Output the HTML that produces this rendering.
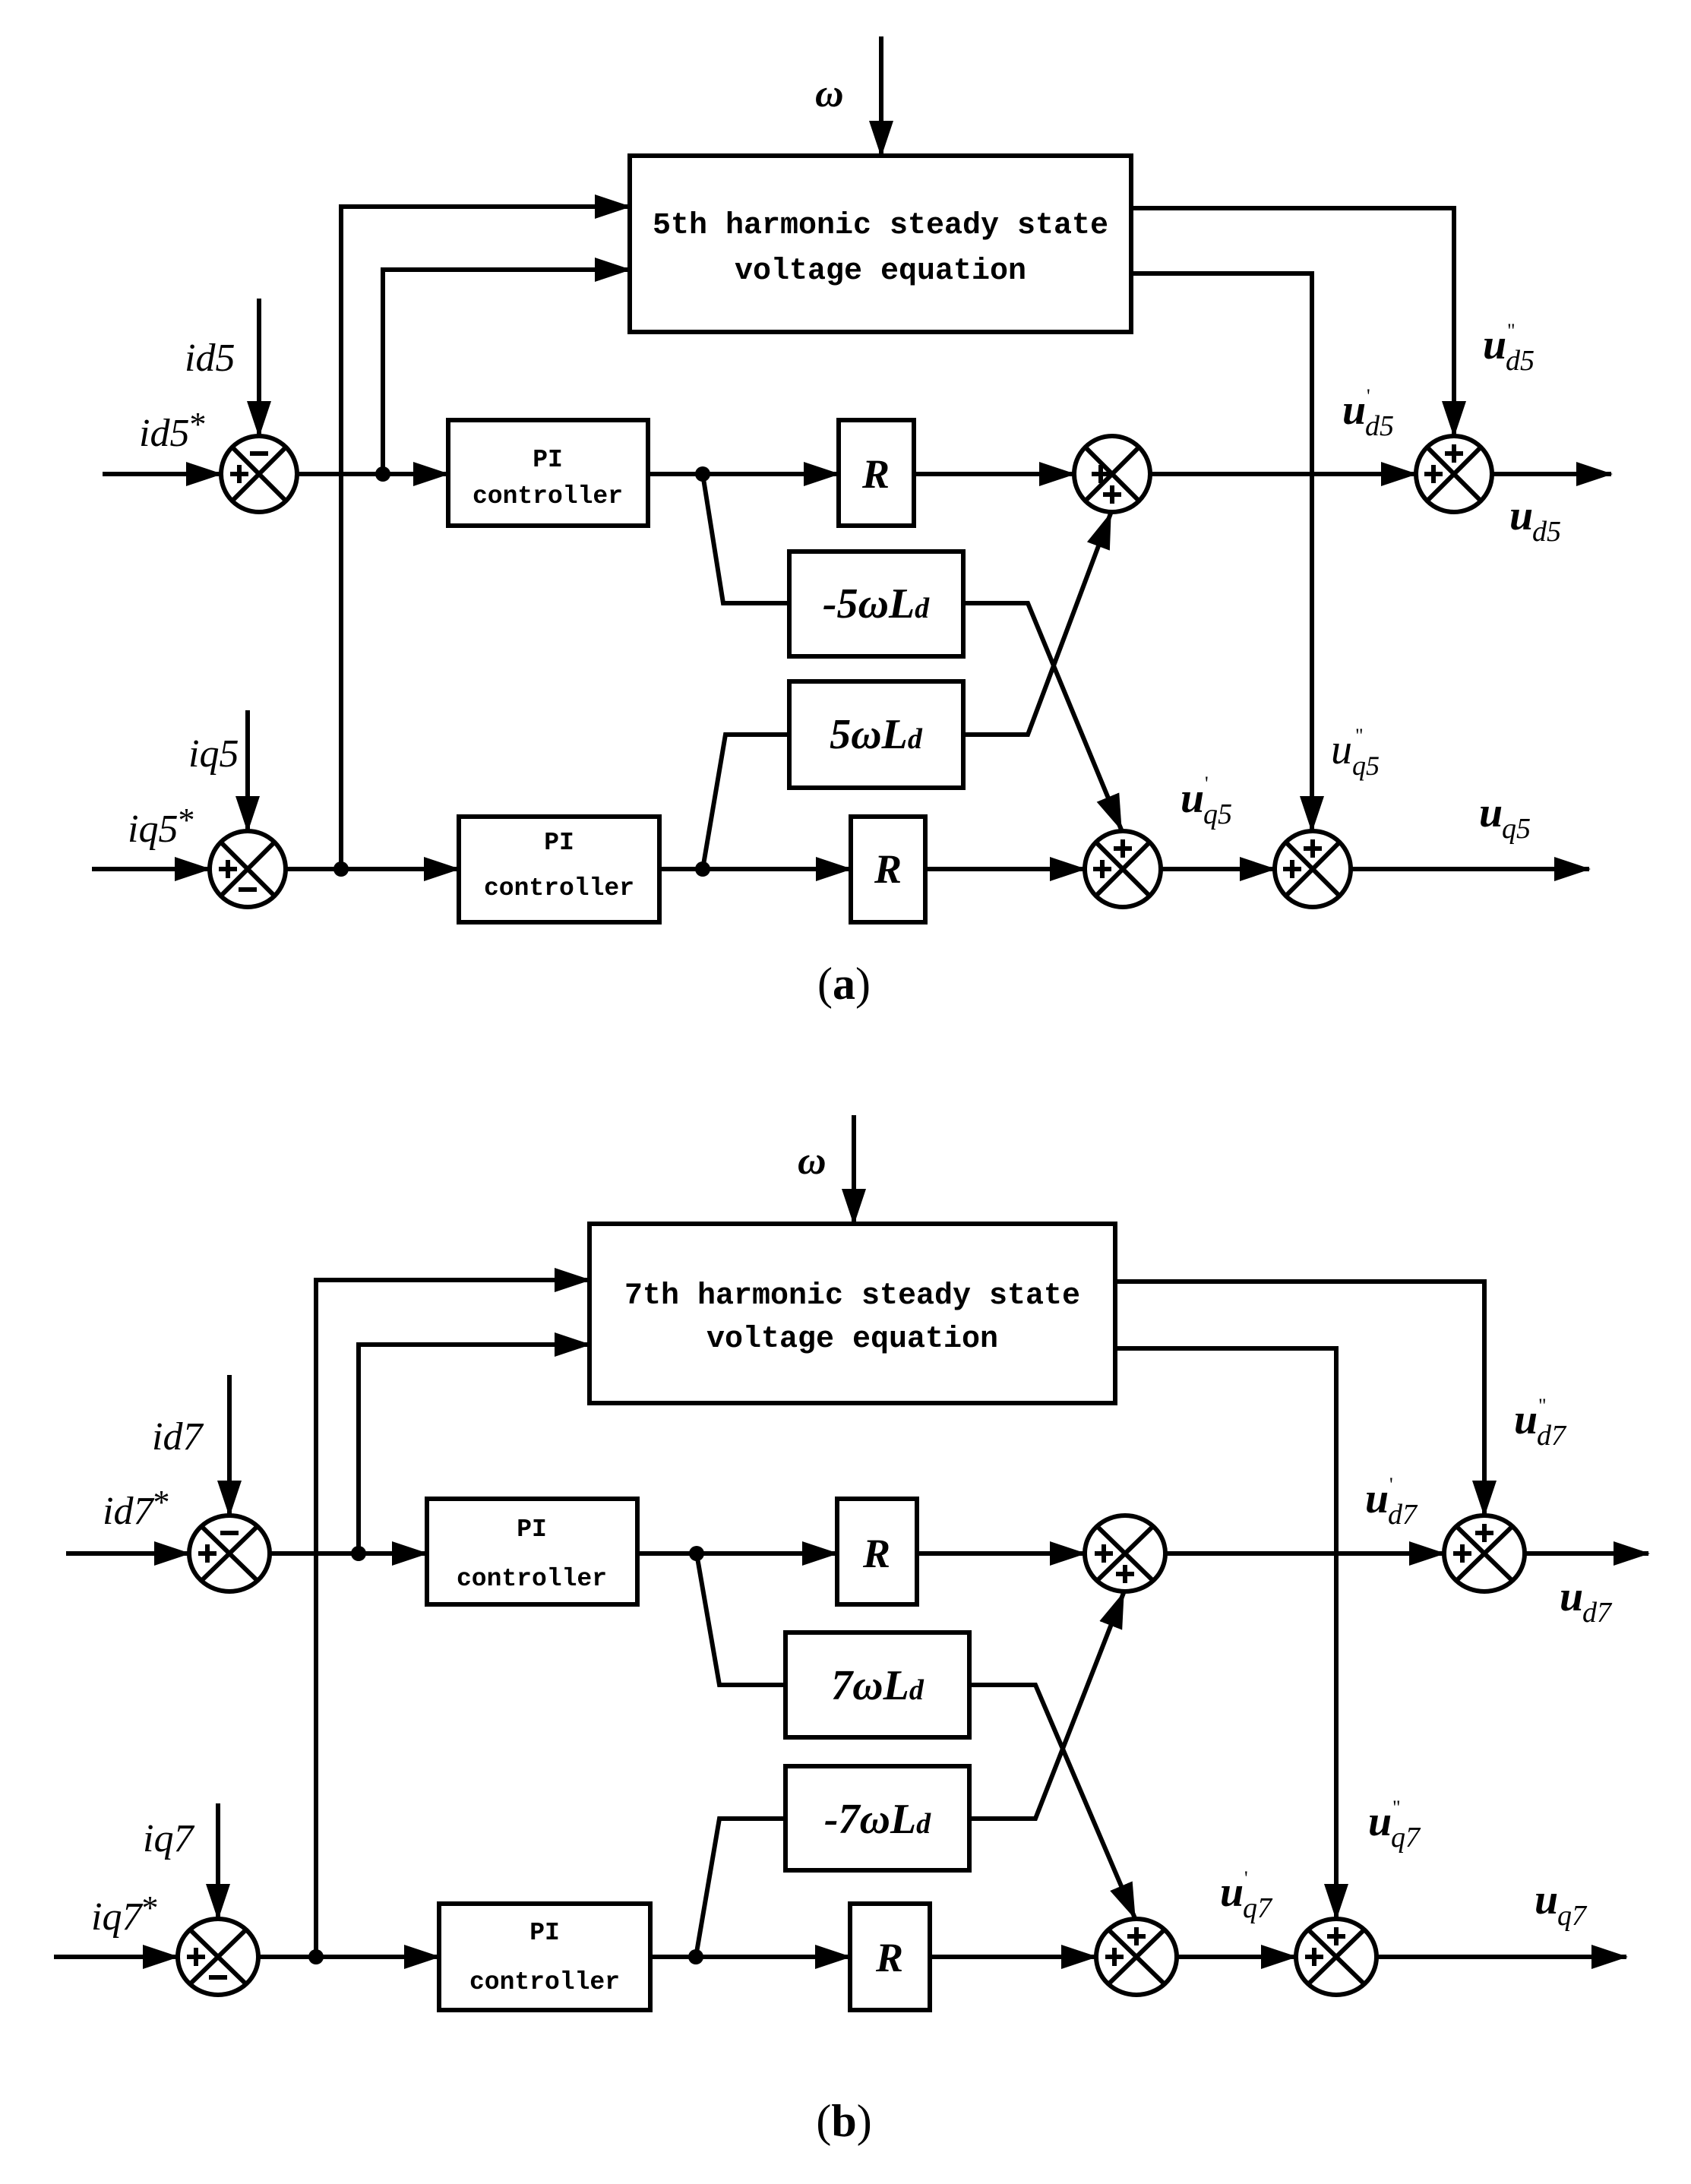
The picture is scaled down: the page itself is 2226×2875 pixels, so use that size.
<!DOCTYPE html>
<html><head><meta charset="utf-8"><style>
html,body{margin:0;padding:0;background:#fff}
svg{display:block}
.l{stroke:#000;stroke-width:6;fill:none;stroke-linejoin:miter}
.b{stroke:#000;stroke-width:6;fill:none}
.mono{font-family:"Liberation Mono",monospace;font-weight:bold;fill:#000}
.ser{font-family:"Liberation Serif",serif;fill:#000}
</style></head><body>
<svg width="2226" height="2875" viewBox="0 0 2226 2875" xmlns="http://www.w3.org/2000/svg">
<defs>
<marker id="a" markerUnits="userSpaceOnUse" markerWidth="48" markerHeight="34" refX="46" refY="16" orient="auto">
<path d="M0,0 L48,16 L0,32 z" fill="#000"/>
</marker>
</defs>
<rect width="2226" height="2875" fill="#fff"/>

<!-- ================= PANEL A ================= -->
<text class="ser" x="1073" y="140" font-size="52" font-style="italic" font-weight="bold">ω</text>
<line class="l" x1="1160" y1="48" x2="1160" y2="205" marker-end="url(#a)"/>
<rect class="b" x="829" y="205" width="660" height="232"/>
<text class="mono" x="1159" y="307" font-size="40" text-anchor="middle">5th harmonic steady state</text>
<text class="mono" x="1159" y="367" font-size="40" text-anchor="middle">voltage equation</text>

<path class="l" d="M449,1144 V272 H829" marker-end="url(#a)"/>
<path class="l" d="M504,624 V355 H829" marker-end="url(#a)"/>
<circle cx="504" cy="624" r="10"/>

<line class="l" x1="135" y1="624" x2="291" y2="624" marker-end="url(#a)"/>
<line class="l" x1="341" y1="393" x2="341" y2="574" marker-end="url(#a)"/>
<line class="l" x1="391" y1="624" x2="590" y2="624" marker-end="url(#a)"/>
<rect class="b" x="590" y="553" width="263" height="139"/>
<text class="mono" x="721" y="614" font-size="33" text-anchor="middle">PI</text>
<text class="mono" x="721" y="662" font-size="33" text-anchor="middle">controller</text>
<line class="l" x1="853" y1="624" x2="1104" y2="624" marker-end="url(#a)"/>
<circle cx="925" cy="624" r="10"/>
<path class="l" d="M925,624 L952,794 H1039"/>
<rect class="b" x="1104" y="553" width="99" height="139"/>
<text class="ser" x="1153" y="642" font-size="54" font-style="italic" font-weight="bold" text-anchor="middle">R</text>
<line class="l" x1="1203" y1="624" x2="1414" y2="624" marker-end="url(#a)"/>

<rect class="b" x="1039" y="726" width="229" height="138"/>
<text class="ser" x="1153" y="813" font-size="56" font-style="italic" font-weight="bold" text-anchor="middle">-5ωL<tspan font-size="38">d</tspan></text>
<rect class="b" x="1039" y="897" width="229" height="140"/>
<text class="ser" x="1153" y="985" font-size="56" font-style="italic" font-weight="bold" text-anchor="middle">5ωL<tspan font-size="38">d</tspan></text>
<path class="l" d="M1268,794 H1353 L1476,1092" marker-end="url(#a)"/>
<path class="l" d="M1268,967 H1353 L1462,676" marker-end="url(#a)"/>

<line class="l" x1="1514" y1="624" x2="1864" y2="624" marker-end="url(#a)"/>
<line class="l" x1="1964" y1="624" x2="2121" y2="624" marker-end="url(#a)"/>
<path class="l" d="M1489,274 H1914 V574" marker-end="url(#a)"/>
<path class="l" d="M1489,360 H1727 V1094" marker-end="url(#a)"/>

<line class="l" x1="121" y1="1144" x2="276" y2="1144" marker-end="url(#a)"/>
<line class="l" x1="326" y1="935" x2="326" y2="1094" marker-end="url(#a)"/>
<line class="l" x1="376" y1="1144" x2="604" y2="1144" marker-end="url(#a)"/>
<circle cx="449" cy="1144" r="10"/>
<rect class="b" x="604" y="1075" width="264" height="139"/>
<text class="mono" x="736" y="1118" font-size="33" text-anchor="middle">PI</text>
<text class="mono" x="736" y="1178" font-size="33" text-anchor="middle">controller</text>
<line class="l" x1="868" y1="1144" x2="1120" y2="1144" marker-end="url(#a)"/>
<circle cx="925" cy="1144" r="10"/>
<path class="l" d="M925,1144 L955,967 H1039"/>
<rect class="b" x="1120" y="1075" width="98" height="139"/>
<text class="ser" x="1169" y="1162" font-size="54" font-style="italic" font-weight="bold" text-anchor="middle">R</text>
<line class="l" x1="1218" y1="1144" x2="1428" y2="1144" marker-end="url(#a)"/>
<line class="l" x1="1528" y1="1144" x2="1678" y2="1144" marker-end="url(#a)"/>
<line class="l" x1="1778" y1="1144" x2="2092" y2="1144" marker-end="url(#a)"/>

<!-- sums A -->
<g class="b">
<circle cx="341" cy="624" r="50"/><path d="M306,589 L376,659 M376,589 L306,659"/>
<circle cx="1464" cy="624" r="50"/><path d="M1429,589 L1499,659 M1499,589 L1429,659"/>
<circle cx="1914" cy="624" r="50"/><path d="M1879,589 L1949,659 M1949,589 L1879,659"/>
<circle cx="326" cy="1144" r="50"/><path d="M291,1109 L361,1179 M361,1109 L291,1179"/>
<circle cx="1478" cy="1144" r="50"/><path d="M1443,1109 L1513,1179 M1513,1109 L1443,1179"/>
<circle cx="1728" cy="1144" r="50"/><path d="M1693,1109 L1763,1179 M1763,1109 L1693,1179"/>
</g>
<g class="b" stroke-width="6">
<path d="M329,597 H353"/><path d="M303,624 H327 M315,612 V636"/>
<path d="M1437,624 H1461 M1449,612 V636"/><path d="M1452,651 H1476 M1464,639 V663"/>
<path d="M1902,597 H1926 M1914,585 V609"/><path d="M1875,624 H1899 M1887,612 V636"/>
<path d="M288,1144 H312 M300,1132 V1156"/><path d="M314,1171 H338"/>
<path d="M1466,1117 H1490 M1478,1105 V1129"/><path d="M1439,1144 H1463 M1451,1132 V1156"/>
<path d="M1716,1117 H1740 M1728,1105 V1129"/><path d="M1689,1144 H1713 M1701,1132 V1156"/>
</g>

<!-- labels A -->
<text class="ser" x="243" y="488" font-size="52" font-style="italic">id5</text>
<text class="ser" x="183" y="587" font-size="52" font-style="italic">id5<tspan font-size="44" dy="-14" font-style="normal">*</tspan></text>
<text class="ser" x="248" y="1009" font-size="52" font-style="italic">iq5</text>
<text class="ser" x="168" y="1108" font-size="52" font-style="italic">iq5<tspan font-size="44" dy="-14" font-style="normal">*</tspan></text>

<text class="ser" x="1767" y="558" font-size="56" font-style="italic" font-weight="bold">u</text>
<text class="ser" x="1797" y="573" font-size="38" font-style="italic">d5</text>
<text class="ser" x="1799" y="530" font-size="26">'</text>
<text class="ser" x="1952" y="472" font-size="56" font-style="italic" font-weight="bold">u</text>
<text class="ser" x="1982" y="487" font-size="38" font-style="italic">d5</text>
<text class="ser" x="1984" y="444" font-size="26">"</text>
<text class="ser" x="1987" y="697" font-size="56" font-style="italic" font-weight="bold">u</text>
<text class="ser" x="2017" y="712" font-size="38" font-style="italic">d5</text>

<text class="ser" x="1752" y="1005" font-size="56" font-style="italic">u</text>
<text class="ser" x="1780" y="1020" font-size="36" font-style="italic">q5</text>
<text class="ser" x="1784" y="977" font-size="26">"</text>
<text class="ser" x="1554" y="1069" font-size="56" font-style="italic" font-weight="bold">u</text>
<text class="ser" x="1584" y="1084" font-size="38" font-style="italic">q5</text>
<text class="ser" x="1586" y="1040" font-size="26">'</text>
<text class="ser" x="1947" y="1088" font-size="56" font-style="italic" font-weight="bold">u</text>
<text class="ser" x="1977" y="1103" font-size="38" font-style="italic">q5</text>

<text class="ser" x="1111" y="1315" font-size="60" text-anchor="middle">(<tspan font-weight="bold">a</tspan>)</text>

<!-- ================= PANEL B ================= -->
<text class="ser" x="1050" y="1545" font-size="52" font-style="italic" font-weight="bold">ω</text>
<line class="l" x1="1124" y1="1468" x2="1124" y2="1611" marker-end="url(#a)"/>
<rect class="b" x="776" y="1611" width="692" height="236"/>
<text class="mono" x="1122" y="1716" font-size="40" text-anchor="middle">7th harmonic steady state</text>
<text class="mono" x="1122" y="1773" font-size="40" text-anchor="middle">voltage equation</text>

<path class="l" d="M416,2576 V1685 H776" marker-end="url(#a)"/>
<path class="l" d="M472,2045 V1770 H776" marker-end="url(#a)"/>
<circle cx="472" cy="2045" r="10"/>

<line class="l" x1="87" y1="2045" x2="249" y2="2045" marker-end="url(#a)"/>
<line class="l" x1="302" y1="1810" x2="302" y2="1995" marker-end="url(#a)"/>
<line class="l" x1="355" y1="2045" x2="562" y2="2045" marker-end="url(#a)"/>
<rect class="b" x="562" y="1973" width="277" height="139"/>
<text class="mono" x="700" y="2022" font-size="33" text-anchor="middle">PI</text>
<text class="mono" x="700" y="2087" font-size="33" text-anchor="middle">controller</text>
<line class="l" x1="839" y1="2045" x2="1102" y2="2045" marker-end="url(#a)"/>
<circle cx="917" cy="2045" r="10"/>
<path class="l" d="M917,2045 L947,2218 H1034"/>
<rect class="b" x="1102" y="1973" width="105" height="139"/>
<text class="ser" x="1154" y="2063" font-size="54" font-style="italic" font-weight="bold" text-anchor="middle">R</text>
<line class="l" x1="1207" y1="2045" x2="1428" y2="2045" marker-end="url(#a)"/>

<rect class="b" x="1034" y="2149" width="242" height="138"/>
<text class="ser" x="1155" y="2237" font-size="56" font-style="italic" font-weight="bold" text-anchor="middle">7ωL<tspan font-size="38">d</tspan></text>
<rect class="b" x="1034" y="2325" width="242" height="137"/>
<text class="ser" x="1155" y="2413" font-size="56" font-style="italic" font-weight="bold" text-anchor="middle">-7ωL<tspan font-size="38">d</tspan></text>
<path class="l" d="M1276,2218 H1363 L1494,2525" marker-end="url(#a)"/>
<path class="l" d="M1276,2394 H1363 L1479,2097" marker-end="url(#a)"/>

<line class="l" x1="1534" y1="2045" x2="1901" y2="2045" marker-end="url(#a)"/>
<line class="l" x1="2007" y1="2045" x2="2170" y2="2045" marker-end="url(#a)"/>
<path class="l" d="M1468,1687 H1954 V1995" marker-end="url(#a)"/>
<path class="l" d="M1468,1775 H1759 V2526" marker-end="url(#a)"/>

<line class="l" x1="71" y1="2576" x2="234" y2="2576" marker-end="url(#a)"/>
<line class="l" x1="287" y1="2374" x2="287" y2="2526" marker-end="url(#a)"/>
<line class="l" x1="340" y1="2576" x2="578" y2="2576" marker-end="url(#a)"/>
<circle cx="416" cy="2576" r="10"/>
<rect class="b" x="578" y="2506" width="278" height="140"/>
<text class="mono" x="717" y="2553" font-size="33" text-anchor="middle">PI</text>
<text class="mono" x="717" y="2618" font-size="33" text-anchor="middle">controller</text>
<line class="l" x1="856" y1="2576" x2="1119" y2="2576" marker-end="url(#a)"/>
<circle cx="916" cy="2576" r="10"/>
<path class="l" d="M916,2576 L947,2394 H1034"/>
<rect class="b" x="1119" y="2506" width="105" height="140"/>
<text class="ser" x="1171" y="2595" font-size="54" font-style="italic" font-weight="bold" text-anchor="middle">R</text>
<line class="l" x1="1224" y1="2576" x2="1443" y2="2576" marker-end="url(#a)"/>
<line class="l" x1="1549" y1="2576" x2="1706" y2="2576" marker-end="url(#a)"/>
<line class="l" x1="1812" y1="2576" x2="2141" y2="2576" marker-end="url(#a)"/>

<!-- sums B -->
<g class="b">
<ellipse cx="302" cy="2045" rx="53" ry="50"/><path d="M266,2010 L338,2080 M338,2010 L266,2080"/>
<ellipse cx="1481" cy="2045" rx="53" ry="50"/><path d="M1445,2010 L1517,2080 M1517,2010 L1445,2080"/>
<ellipse cx="1954" cy="2045" rx="53" ry="50"/><path d="M1918,2010 L1990,2080 M1990,2010 L1918,2080"/>
<ellipse cx="287" cy="2576" rx="53" ry="50"/><path d="M251,2541 L323,2611 M323,2541 L251,2611"/>
<ellipse cx="1496" cy="2576" rx="53" ry="50"/><path d="M1460,2541 L1532,2611 M1532,2541 L1460,2611"/>
<ellipse cx="1759" cy="2576" rx="53" ry="50"/><path d="M1723,2541 L1795,2611 M1795,2541 L1723,2611"/>
</g>
<g class="b">
<path d="M290,2018 H314"/><path d="M261,2045 H285 M273,2033 V2057"/>
<path d="M1441,2045 H1465 M1453,2033 V2057"/><path d="M1469,2072 H1493 M1481,2060 V2084"/>
<path d="M1942,2018 H1966 M1954,2006 V2030"/><path d="M1913,2045 H1937 M1925,2033 V2057"/>
<path d="M246,2576 H270 M258,2564 V2588"/><path d="M275,2603 H299"/>
<path d="M1484,2549 H1508 M1496,2537 V2561"/><path d="M1455,2576 H1479 M1467,2564 V2588"/>
<path d="M1747,2549 H1771 M1759,2537 V2561"/><path d="M1718,2576 H1742 M1730,2564 V2588"/>
</g>

<!-- labels B -->
<text class="ser" x="200" y="1908" font-size="52" font-style="italic">id7</text>
<text class="ser" x="135" y="2006" font-size="52" font-style="italic">id7<tspan font-size="44" dy="-14" font-style="normal">*</tspan></text>
<text class="ser" x="188" y="2437" font-size="52" font-style="italic">iq7</text>
<text class="ser" x="120" y="2540" font-size="52" font-style="italic">iq7<tspan font-size="44" dy="-14" font-style="normal">*</tspan></text>

<text class="ser" x="1993" y="1887" font-size="56" font-style="italic" font-weight="bold">u</text>
<text class="ser" x="2023" y="1902" font-size="38" font-style="italic">d7</text>
<text class="ser" x="2025" y="1859" font-size="26">"</text>
<text class="ser" x="1797" y="1991" font-size="56" font-style="italic" font-weight="bold">u</text>
<text class="ser" x="1827" y="2006" font-size="38" font-style="italic">d7</text>
<text class="ser" x="1829" y="1963" font-size="26">'</text>
<text class="ser" x="2053" y="2120" font-size="56" font-style="italic" font-weight="bold">u</text>
<text class="ser" x="2083" y="2135" font-size="38" font-style="italic">d7</text>

<text class="ser" x="1801" y="2416" font-size="56" font-style="italic" font-weight="bold">u</text>
<text class="ser" x="1831" y="2431" font-size="38" font-style="italic">q7</text>
<text class="ser" x="1833" y="2388" font-size="26">"</text>
<text class="ser" x="1606" y="2509" font-size="56" font-style="italic" font-weight="bold">u</text>
<text class="ser" x="1636" y="2524" font-size="38" font-style="italic">q7</text>
<text class="ser" x="1638" y="2481" font-size="26">'</text>
<text class="ser" x="2020" y="2519" font-size="56" font-style="italic" font-weight="bold">u</text>
<text class="ser" x="2050" y="2534" font-size="38" font-style="italic">q7</text>

<text class="ser" x="1111" y="2812" font-size="60" text-anchor="middle">(<tspan font-weight="bold">b</tspan>)</text>
</svg>
</body></html>
